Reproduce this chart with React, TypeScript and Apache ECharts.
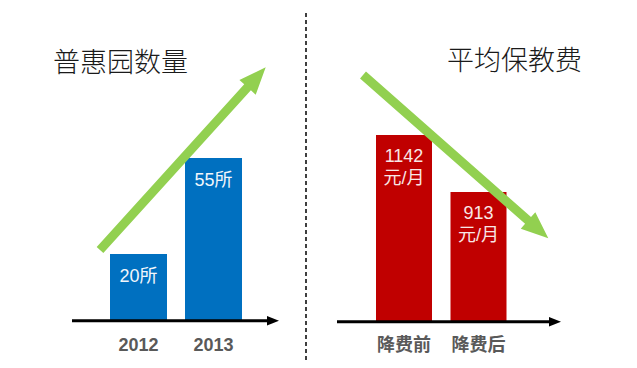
import React, { useEffect, useRef } from "react";
import * as echarts from "echarts";

const yearCategories = ["2012", "2013"];
const kindergartenCounts = [20, 55];
const feeCategories = ["降费前", "降费后"];
const monthlyFees = [1142, 913];
const leftTitle = "普惠园数量";
const rightTitle = "平均保教费";
const countUnit = "所";
const feeUnit = "元/月";

const FONT = "'Liberation Sans', 'Noto Sans CJK SC', sans-serif";

function arrowPoints(sx: number, sy: number, tx: number, ty: number, shaft: number, head: number, headLen: number) {
  const dx = tx - sx;
  const dy = ty - sy;
  const len = Math.sqrt(dx * dx + dy * dy);
  const ux = dx / len;
  const uy = dy / len;
  const nx = -uy;
  const ny = ux;
  const bx = tx - ux * headLen;
  const by = ty - uy * headLen;
  const hs = shaft / 2;
  const hh = head / 2;
  return [
    [sx + nx * hs, sy + ny * hs],
    [bx + nx * hs, by + ny * hs],
    [bx + nx * hh, by + ny * hh],
    [tx, ty],
    [bx - nx * hh, by - ny * hh],
    [bx - nx * hs, by - ny * hs],
    [sx - nx * hs, sy - ny * hs],
  ];
}

export default function App() {
  const ref = useRef<HTMLDivElement>(null);
  useEffect(() => {
    document.body.style.margin = "0";
    if (!ref.current) return;
    const chart = echarts.init(ref.current, undefined, { renderer: "svg" });
    const axisLabel = {
      margin: 15,
      color: "#595959",
      fontWeight: "bold" as const,
      fontSize: 18,
      fontFamily: FONT,
    };
    chart.setOption({
      animation: false,
      backgroundColor: "#ffffff",
      grid: [
        { left: 101, width: 150, top: 144.4, height: 176.1 },
        { left: 366.75, width: 149, top: 120.6, height: 200.4 },
      ],
      xAxis: [
        {
          type: "category",
          gridIndex: 0,
          data: yearCategories,
          axisLine: { show: false, onZero: false },
          axisTick: { show: false },
          axisLabel,
        },
        {
          type: "category",
          gridIndex: 1,
          data: feeCategories,
          axisLine: { show: false, onZero: false },
          axisTick: { show: false },
          axisLabel,
        },
      ],
      yAxis: [
        { type: "value", gridIndex: 0, min: -4.2, max: 60, startValue: -4.2, show: false, splitLine: { show: false } },
        { type: "value", gridIndex: 1, min: 395, max: 1200, startValue: 395, show: false, splitLine: { show: false } },
      ],
      series: [
        {
          type: "bar",
          xAxisIndex: 0,
          yAxisIndex: 0,
          data: kindergartenCounts,
          barWidth: 57,
          itemStyle: { color: "#0070C0" },
          label: {
            show: true,
            position: "insideTop",
            distance: 11,
            color: "#f2f6fb",
            fontSize: 18,
            lineHeight: 22,
            fontFamily: FONT,
            formatter: (p: any) => p.value + countUnit,
          },
        },
        {
          type: "bar",
          xAxisIndex: 1,
          yAxisIndex: 1,
          data: monthlyFees,
          barWidth: 56,
          itemStyle: { color: "#C00000" },
          label: {
            show: true,
            position: "insideTop",
            distance: 10,
            color: "#f8e6e6",
            fontSize: 18,
            lineHeight: 22,
            fontFamily: FONT,
            formatter: (p: any) => p.value + "\n" + feeUnit,
          },
        },
      ],
      graphic: [
        {
          type: "text",
          x: 53,
          y: 60,
          z: 100,
          style: {
            text: leftTitle,
            fontSize: 27,
            fontFamily: "'Noto Sans CJK SC', sans-serif",
            fontWeight: 300,
            fill: "#1a1a1a",
            verticalAlign: "middle",
          },
        },
        {
          type: "text",
          x: 447,
          y: 58,
          z: 100,
          style: {
            text: rightTitle,
            fontSize: 27,
            fontFamily: "'Noto Sans CJK SC', sans-serif",
            fontWeight: 300,
            fill: "#1a1a1a",
            verticalAlign: "middle",
          },
        },
        {
          type: "line",
          z: 100,
          shape: { x1: 306, y1: 13, x2: 306, y2: 360 },
          style: { stroke: "#000", lineWidth: 1.5, lineDash: [4, 3] },
        },
        {
          type: "line",
          z: 100,
          shape: { x1: 72, y1: 320.7, x2: 270, y2: 320.7 },
          style: { stroke: "#000", lineWidth: 3 },
        },
        {
          type: "polygon",
          z: 100,
          shape: { points: [[267, 316], [279, 320.7], [267, 325.4]] },
          style: { fill: "#000" },
        },
        {
          type: "line",
          z: 100,
          shape: { x1: 337, y1: 321.7, x2: 552, y2: 321.7 },
          style: { stroke: "#000", lineWidth: 3 },
        },
        {
          type: "polygon",
          z: 100,
          shape: { points: [[549, 317], [561, 321.7], [549, 326.4]] },
          style: { fill: "#000" },
        },
        {
          type: "polygon",
          z: 100,
          shape: { points: arrowPoints(100, 250, 265.7, 67.3, 9, 22, 27) },
          style: { fill: "#92D050" },
        },
        {
          type: "polygon",
          z: 100,
          shape: { points: arrowPoints(363, 75, 548.3, 238.3, 9, 22, 27) },
          style: { fill: "#92D050" },
        },
      ],
    });
    return () => chart.dispose();
  }, []);
  return <div ref={ref} style={{ width: 637, height: 368 }} />;
}
